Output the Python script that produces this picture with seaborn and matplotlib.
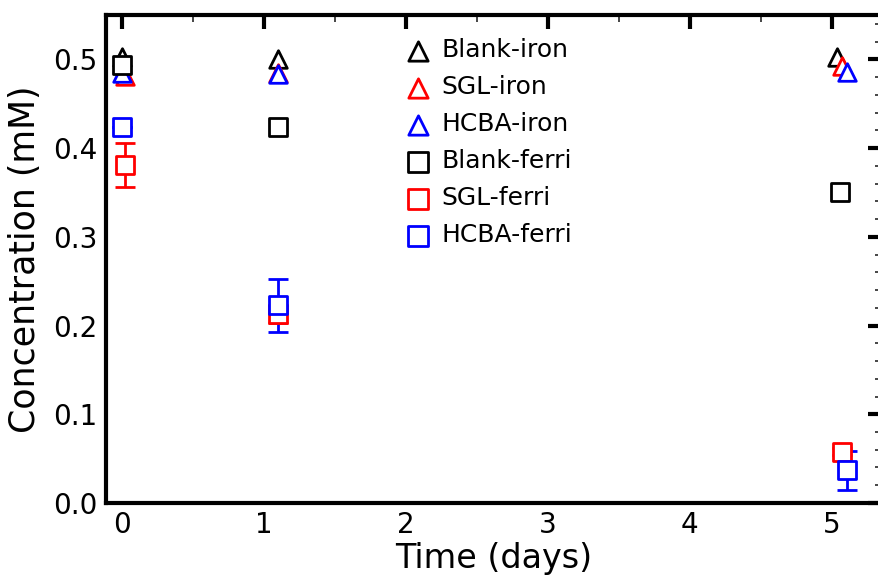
import matplotlib
matplotlib.use("Agg")
import matplotlib.pyplot as plt
import seaborn as sns
import numpy as np
from matplotlib.ticker import MultipleLocator

sns.set_theme(style="white")
plt.rcParams['font.family'] = ['DejaVu Sans']
plt.rcParams['text.color'] = 'black'
plt.rcParams['axes.labelcolor'] = 'black'

# data
labels = ["Blank-iron", "SGL-iron", "HCBA-iron", "Blank-ferri", "SGL-ferri", "HCBA-ferri"]
colors = ["black", "red", "blue", "black", "red", "blue"]
markers = ["^", "^", "^", "s", "s", "s"]

x_blank_iron = [0.0, 1.1, 5.04]
y_blank_iron = [0.503, 0.500, 0.503]
x_sgl_iron = [0.02, 1.1, 5.07]
y_sgl_iron = [0.481, 0.485, 0.492]
x_hcba_iron = [0.0, 1.1, 5.11]
y_hcba_iron = [0.485, 0.484, 0.486]
x_blank_ferri = [0.0, 1.1, 5.06]
y_blank_ferri = [0.494, 0.424, 0.351]
x_sgl_ferri = [0.02, 1.1, 5.07]
y_sgl_ferri = [0.381, 0.213, 0.058]
e_sgl_ferri = [0.025, 0.010, 0.004]
x_hcba_ferri = [0.0, 1.1, 5.11]
y_hcba_ferri = [0.424, 0.223, 0.037]
e_hcba_ferri = [0.0, 0.030, 0.022]

xs = [x_blank_iron, x_sgl_iron, x_hcba_iron, x_blank_ferri, x_sgl_ferri, x_hcba_ferri]
ys = [y_blank_iron, y_sgl_iron, y_hcba_iron, y_blank_ferri, y_sgl_ferri, y_hcba_ferri]
es = [None, None, None, None, e_sgl_ferri, e_hcba_ferri]

fig = plt.figure(figsize=(8.79, 5.78), dpi=100)
ax = fig.add_axes([0.1206, 0.1298, 0.8830, 0.8442])

for i in range(6):
    if es[i] is not None:
        ax.errorbar(xs[i], ys[i], yerr=es[i], fmt='none', ecolor=colors[i],
                    elinewidth=2, capsize=7, capthick=2, zorder=2)
    sns.scatterplot(x=xs[i], y=ys[i], marker=markers[i], s=160, ax=ax,
                    facecolor="white", edgecolor=colors[i], linewidth=2,
                    label=labels[i], zorder=3 + i)

ax.set_xlim(-0.113, 5.355)
ax.set_ylim(0, 0.55)
ax.xaxis.set_major_locator(MultipleLocator(1))
ax.xaxis.set_minor_locator(MultipleLocator(0.5))
ax.yaxis.set_major_locator(MultipleLocator(0.1))
ax.yaxis.set_minor_locator(MultipleLocator(0.02))
ax.tick_params(which='major', direction='in', length=10, width=3, top=True, right=True,
               labelsize=20, colors='black', pad=6)
ax.tick_params(which='minor', direction='in', length=5, width=1.2, top=True, right=True)
for sp in ax.spines.values():
    sp.set_linewidth(3)
    sp.set_color('black')
    sp.set_visible(True)

ax.set_xlabel("Time (days)", fontsize=24, labelpad=2, color='black')
ax.set_ylabel("Concentration (mM)", fontsize=25, labelpad=8, color='black')

leg = ax.legend(loc='upper left', bbox_to_anchor=(0.373, 0.973), frameon=False,
                fontsize=18, handlelength=1.0, handletextpad=0.42, labelspacing=0.52,
                markerscale=1.1, borderaxespad=0)

fig.savefig("out.png", dpi=100)
